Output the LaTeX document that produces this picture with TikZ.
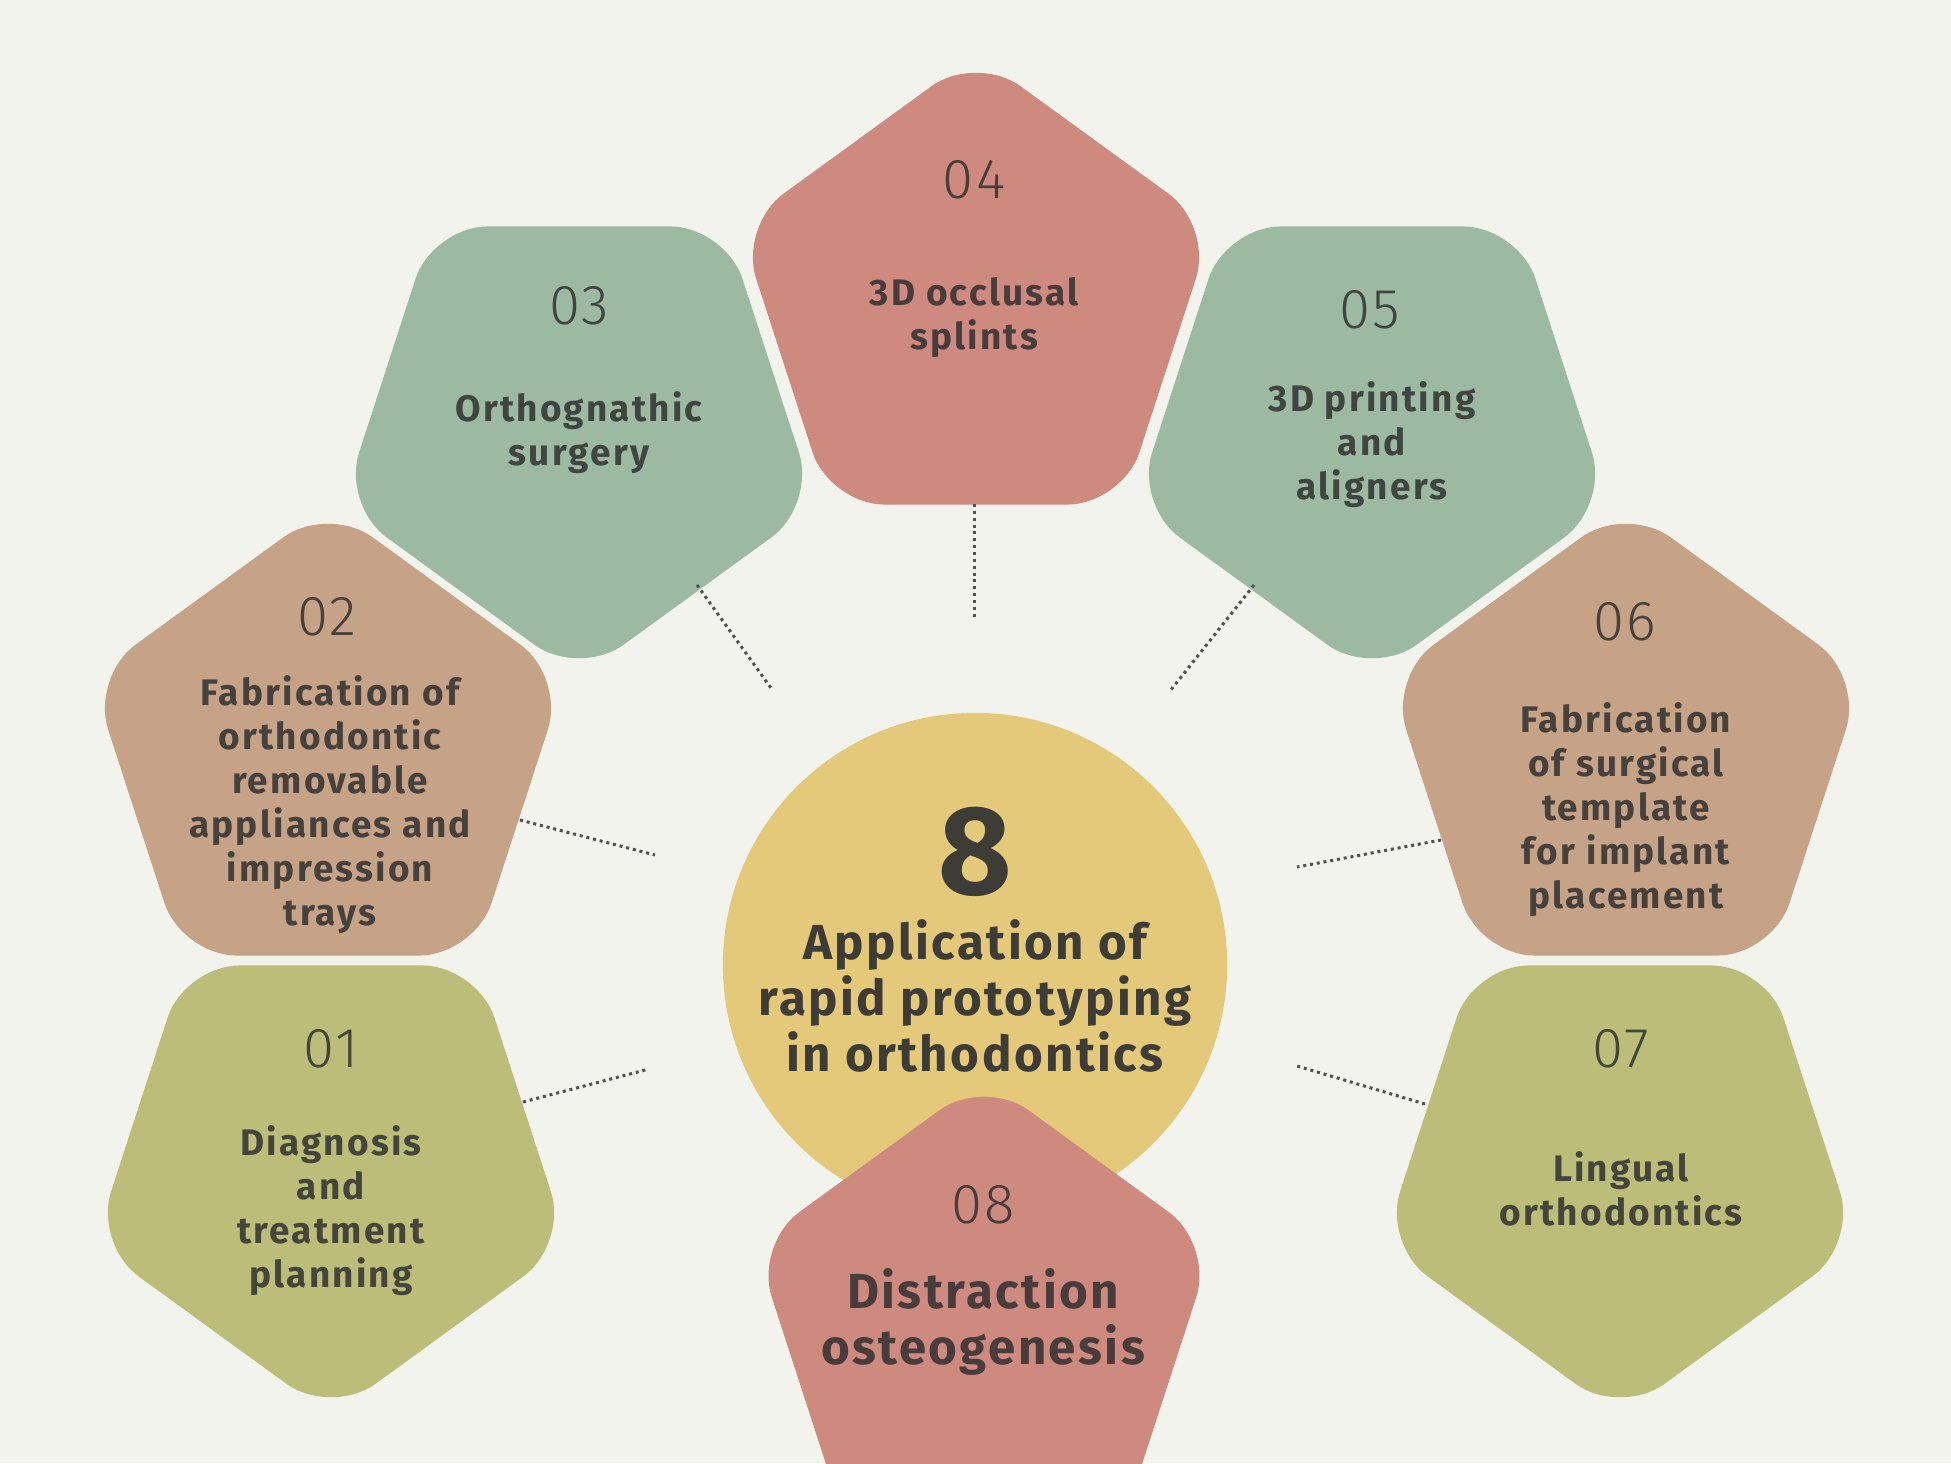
\documentclass[tikz,border=0pt]{standalone}
\usepackage{fontspec}
\setmainfont{Fira Sans}
\IfFontExistsTF{FiraSans-Light.otf}{\newfontfamily\numfont{FiraSans-Light.otf}[LetterSpace=4]}{%
  \IfFontExistsTF{Fira Sans Light}{\newfontfamily\numfont{Fira Sans Light}[LetterSpace=4]}{\newfontfamily\numfont{Fira Sans}[LetterSpace=4]}}
\usetikzlibrary{shapes.geometric}
\definecolor{bg}{RGB}{242,243,236}
\definecolor{cpink}{RGB}{206,138,126}
\definecolor{cgreen}{RGB}{156,186,162}
\definecolor{ctan}{RGB}{198,163,134}
\definecolor{colive}{RGB}{188,189,120}
\definecolor{cyellow}{RGB}{228,201,122}
\definecolor{dark}{RGB}{48,48,48}
\definecolor{dotcol}{RGB}{80,80,80}
\colorlet{tpink}{cpink!15!dark}
\colorlet{tgreen}{cgreen!15!dark}
\colorlet{ttan}{ctan!15!dark}
\colorlet{tolive}{colive!15!dark}
\colorlet{tyellow}{cyellow!8!dark}
\begin{document}
\begin{tikzpicture}[x=0.01cm,y=-0.01cm,
  pent/.style={regular polygon, regular polygon sides=5, minimum size=4.98cm,
    inner sep=0pt, outer sep=0pt, rounded corners=0.55cm, draw=none},
  pointdown/.style={shape border rotate=180},
  num/.style={font=\numfont\fontsize{16}{18}\selectfont, inner sep=0pt},
  lbl/.style={font=\bfseries\fontsize{10.5}{12.5}\selectfont\addfontfeatures{LetterSpace=6}, align=center, inner sep=0pt},
  biglbl/.style={font=\bfseries\fontsize{14}{16}\selectfont\addfontfeatures{LetterSpace=5}, align=center, inner sep=0pt},
  dotline/.style={draw=dotcol, line width=0.85pt, dash pattern=on 0.85pt off 1.1pt}
]
\useasboundingbox (0,0) rectangle (1951,1463);
\clip (0,0) rectangle (1951,1463);
\fill[bg] (0,0) rectangle (1951,1463);

% centre circle
\node[circle, fill=cyellow, minimum size=5.04cm, inner sep=0pt] (c) at (975,965) {};

% pentagons
\node[pent, pointdown, fill=colive] (p1) at (331,1167) {};
\node[pent, fill=ctan] (p2) at (328,754) {};
\node[pent, pointdown, fill=cgreen] (p3) at (579,428) {};
\node[pent, fill=cpink] (p4) at (976,303) {};
\node[pent, pointdown, fill=cgreen] (p5) at (1372,428) {};
\node[pent, fill=ctan] (p6) at (1626,754) {};
\node[pent, pointdown, fill=colive] (p7) at (1620,1167) {};
\node[pent, fill=cpink, minimum size=4.82cm] (p8) at (984,1319) {};

% dotted connectors
\coordinate (a1) at (523,1102); \coordinate (b1) at (649,1069);
\coordinate (a2) at (520,820);  \coordinate (b2) at (655,855);
\coordinate (a3) at (697,585);  \coordinate (b3) at (771,688);
\coordinate (a4) at (974,504);  \coordinate (b4) at (974,618);
\coordinate (a5) at (1254,585); \coordinate (b5) at (1170,691);
\coordinate (a6) at (1441,840); \coordinate (b6) at (1297,867);
\coordinate (a7) at (1425,1104);\coordinate (b7) at (1297,1066);
\foreach \i in {1,...,7} { \draw[dotline] (a\i) -- (b\i); }

% texts
\node[num, text=tolive] (n1) at (331,1049) {01};
\node[lbl, text=tolive] (t1) at (331,1211) {Diagnosis\\and\\treatment\\planning};
\node[num, text=ttan] (n2) at (327,617) {02};
\node[lbl, text=ttan] (t2) at (330,805) {Fabrication of\\orthodontic\\removable\\appliances and\\impression\\trays};
\node[num, text=tgreen] (n3) at (579,306) {03};
\node[lbl, text=tgreen] (t3) at (579,433) {Orthognathic\\surgery};
\node[num, text=tpink] (n4) at (974,180) {04};
\node[lbl, text=tpink] (t4) at (974,318) {3D occlusal\\splints};
\node[num, text=tgreen] (n5) at (1370,310) {05};
\node[lbl, text=tgreen] (t5) at (1372,445) {3D printing\\and\\aligners};
\node[num, text=ttan] (n6) at (1625,622) {06};
\node[lbl, text=ttan] (t6) at (1626,810) {Fabrication\\of surgical\\template\\for implant\\placement};
\node[num, text=tolive] (n7) at (1621,1049) {07};
\node[lbl, text=tolive] (t7) at (1621,1189) {Lingual\\orthodontics};
\node[num, text=tpink] (n8) at (983,1205) {08};
\node[biglbl, text=tpink] (t8) at (983,1322) {Distraction\\osteogenesis};

\node[font=\bfseries\fontsize{36}{36}\selectfont, text=tyellow, inner sep=0pt] (big) at (975,852) {8};
\node[biglbl, text=tyellow] (tc) at (975,996) {Application of\\rapid prototyping\\in orthodontics};
\end{tikzpicture}
\end{document}
